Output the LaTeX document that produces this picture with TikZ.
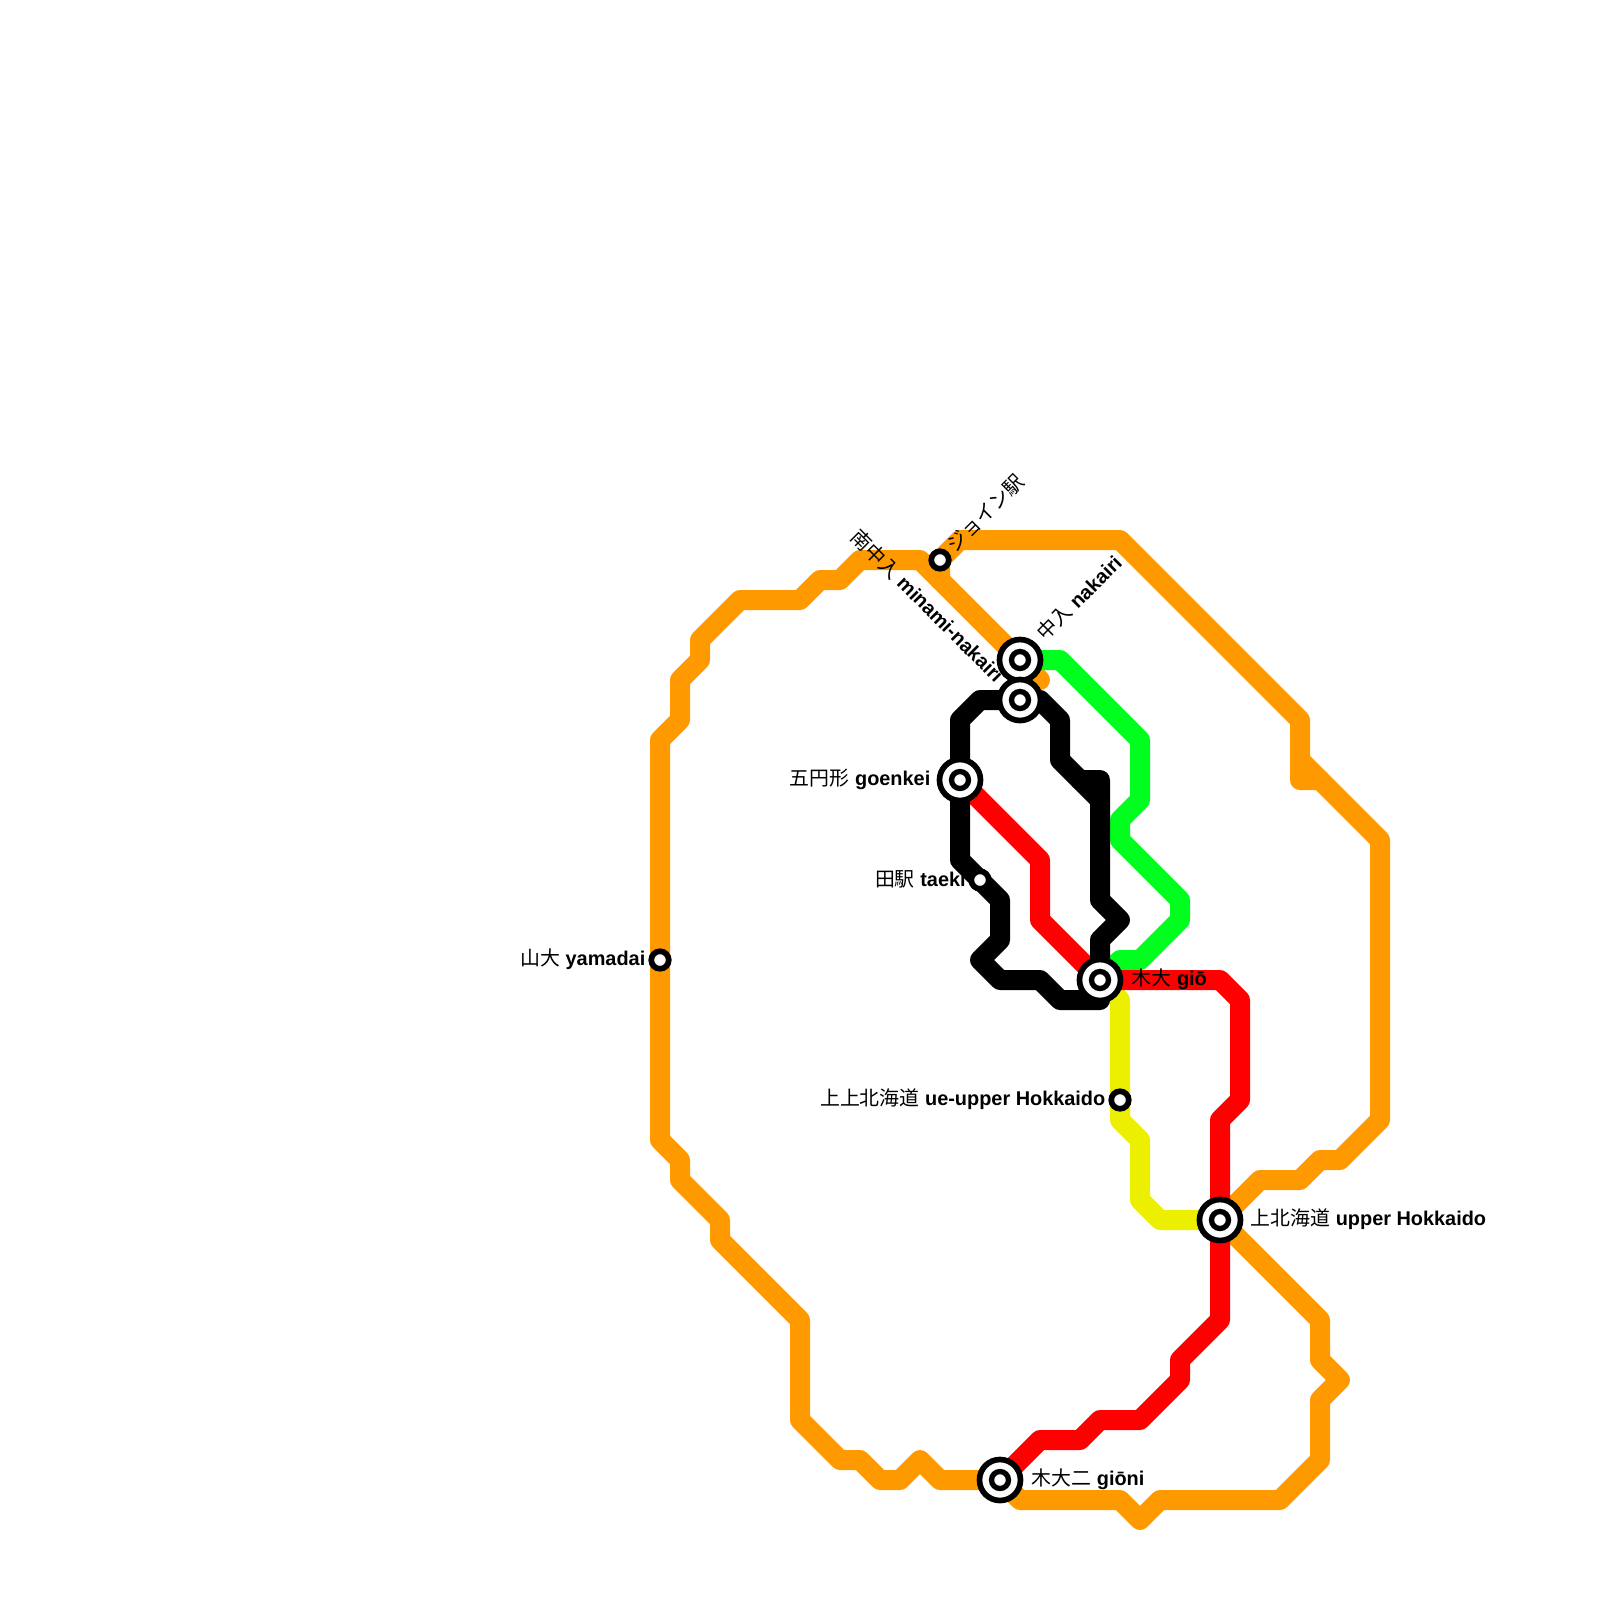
\documentclass[tikz,border=0pt]{standalone}
\usepackage{fontspec}
\setmainfont{Liberation Sans}
\newfontfamily\cjk{Noto Sans CJK JP}

\definecolor{lineorange}{RGB}{255, 153, 0}
\definecolor{linegreen}{RGB}{0, 255, 30}
\definecolor{linered}{RGB}{255, 0, 0}
\definecolor{lineyellow}{RGB}{236, 240, 0}

\tikzset{
    metro/.style={line width=2mm, line join=round, line cap=round},
    hubring/.style={circle, draw=black, fill=white, line width=0.57mm, outer sep=0, minimum size=4.1mm, inner sep=0},
    stopdot/.style={circle, draw=black, fill=white, line width=0.53mm, outer sep=0, minimum size=1.7mm, inner sep=0},
    stationlabel/.style={inner sep=0, font=\fontsize{5.66}{7}\selectfont}
}

\begin{document}
\begin{tikzpicture}[x=0.2cm, y=-0.2cm]

            \useasboundingbox (0,0) rectangle (80,80);

            % Estacoes
            \coordinate (jion) at (47,28);
            \coordinate (nakairi) at (51,33);
            \coordinate (minami) at (51,35);
            \coordinate (goenkei) at (48,39);
            \coordinate (taeki) at (49,44);
            \coordinate (yamadai) at (33,48);
            \coordinate (gio) at (55,49);
            \coordinate (ueupper) at (56,55);
            \coordinate (upper) at (61,61);
            \coordinate (gioni) at (50,74);

            % 1. Linha laranja
            \draw[metro, lineorange] (52,34) -- (46,28) -- (43,28) -- (42,29) -- (41,29) -- (40,30) -- (37,30)
                -- (35,32) -- (35,33) -- (34,34) -- (34,36) -- (33,37) -- (yamadai) -- (33,57) -- (34,58)
                -- (34,59) -- (36,61) -- (36,62) -- (40,66) -- (40,71) -- (42,73) -- (43,73) -- (44,74)
                -- (45,74) -- (46,73) -- (47,74) -- (gioni);
            \draw[metro, lineorange] (gioni) -- (51,75) -- (56,75) -- (57,76) -- (58,75) -- (64,75) -- (66,73)
                -- (66,70) -- (67,69) -- (66,68) -- (66,66) -- (upper);
            \draw[metro, lineorange] (upper) -- (63,59) -- (65,59) -- (66,58) -- (67,58) -- (69,56) -- (69,42)
                -- (66,39) -- (65,39) -- (65,36) -- (56,27) -- (48,27) -- (jion) -- (47,29);
            \draw[metro, lineorange] (66,39) -- (65,38);

            % 2. Linha amarela
            \draw[metro, lineyellow] (gio) -- (56,50) -- (ueupper) -- (56,56) -- (57,57) -- (57,60) -- (58,61) -- (upper);

            % 3. Linha verde
            \draw[metro, linegreen] (nakairi) -- (53,33) -- (57,37) -- (57,40) -- (56,41) -- (56,42) -- (59,45)
                -- (59,46) -- (57,48) -- (56,48) -- (gio);

            % 4. Linha vermelha
            \draw[metro, linered] (goenkei) -- (52,43) -- (52,46) -- (gio);
            \draw[metro, linered] (gio) -- (61,49) -- (62,50) -- (62,55) -- (61,56) -- (upper);
            \draw[metro, linered] (upper) -- (61,66) -- (59,68) -- (59,69) -- (57,71) -- (55,71) -- (54,72)
                -- (52,72) -- (gioni);

            % 5. Linha preta
            \draw[metro, black] (minami) -- (49,35) -- (48,36) -- (goenkei) -- (48,43) -- (taeki) -- (50,45)
                -- (50,47) -- (49,48) -- (50,49) -- (52,49) -- (53,50) -- (55,50) -- (gio);
            \draw[metro, black] (gio) -- (55,47) -- (56,46) -- (55,45) -- (55,39) -- (54,39) -- (53,38)
                -- (53,36) -- (52,35) -- (minami);
            \draw[metro, black] (54,39) -- (55,40);

            % 6. Pontos das estacoes
            \foreach \st in {nakairi, minami, goenkei, gio, upper, gioni} {
                \node[hubring] (\st-ring) at (\st) {};
                \node[stopdot] (\st-dot) at (\st) {};
            }
            \foreach \st in {jion, taeki, yamadai, ueupper} {
                \node[stopdot, line width=0.57mm, minimum size=1.75mm] (\st-dot) at (\st) {};
            }

            % 7. Nomes
            \node[stationlabel, anchor=east] (yamadai-name) at (32.3,47.97) {{\cjk 山大} \textbf{yamadai}};
            \node[stationlabel, anchor=east] (goenkei-name) at (46.55,38.97) {{\cjk 五円形} \textbf{goenkei}};
            \node[stationlabel, anchor=east] (taeki-name) at (48.32,43.97) {{\cjk 田駅} \textbf{taeki}};
            \node[stationlabel, anchor=east] (ueupper-name) at (55.3,54.97) {{\cjk 上上北海道} \textbf{ue-upper Hokkaido}};
            \node[stationlabel, anchor=west] (gio-name) at (56.55,48.97) {{\cjk 木大} \textbf{giō}};
            \node[stationlabel, anchor=west] (gioni-name) at (51.55,73.97) {{\cjk 木大二} \textbf{giōni}};
            \node[stationlabel, anchor=west] (upper-name) at (62.5,60.97) {{\cjk 上北海道} \textbf{upper Hokkaido}};
            \node[stationlabel, anchor=west, rotate=45] (jion-name) at (47.5,27.45) {{\cjk ジョイン駅}};
            \node[stationlabel, anchor=west, rotate=45] (nakairi-name) at (52,31.85) {{\cjk 中入} \textbf{nakairi}};
            \node[stationlabel, anchor=east, rotate=-45] (minami-name) at (50.05,33.95) {{\cjk 南中入} \textbf{minami-nakairi}};

\end{tikzpicture}
\end{document}
